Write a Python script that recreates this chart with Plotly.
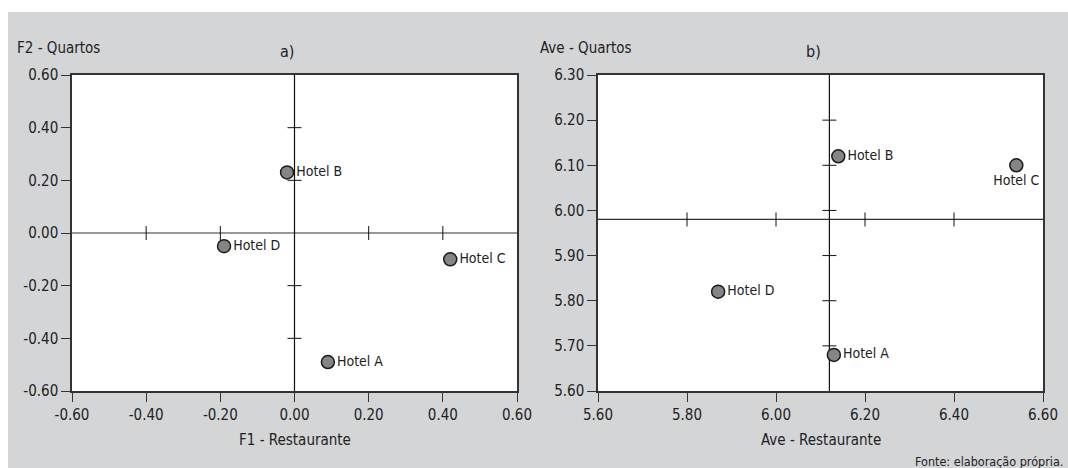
import plotly.graph_objects as go

# Hotel positions in both perceptual maps
hotels = ["Hotel A", "Hotel B", "Hotel C", "Hotel D"]
f1_restaurante = [0.09, -0.02, 0.42, -0.19]
f2_quartos = [-0.49, 0.23, -0.10, -0.05]
ave_restaurante = [6.13, 6.14, 6.54, 5.87]
ave_quartos = [5.68, 6.12, 6.10, 5.82]
label_pos_a = ["middle right", "middle right", "middle right", "middle right"]
label_pos_b = ["middle right", "middle right", "bottom center", "middle right"]

# Axis ticks
a_ticks = [-0.60, -0.40, -0.20, 0.00, 0.20, 0.40, 0.60]
b_xticks = [5.60, 5.80, 6.00, 6.20, 6.40, 6.60]
b_yticks = [5.60, 5.70, 5.80, 5.90, 6.00, 6.10, 6.20, 6.30]

# Where the inner reference axes cross (x, y)
cross_a = (0.00, 0.00)
cross_b = (6.12, 5.98)

W, H = 1068, 468
FONT = "DejaVu Sans Condensed, Liberation Sans Narrow, sans-serif"
INK = "#222222"
BG = "#d4d5d7"

fig = go.Figure()


def add_panel(xs, ys, positions, xticks, yticks, cross, xa, ya):
    fig.add_trace(go.Scatter(
        x=xs, y=ys, mode="markers+text", text=hotels, textposition=positions,
        textfont=dict(family=FONT, size=14, color=INK),
        marker=dict(size=13, color="#858585", line=dict(color="#1a1a1a", width=1.5)),
        xaxis=xa, yaxis=ya, showlegend=False, hoverinfo="skip", cliponaxis=False,
    ))
    cx, cy = cross
    # small cross ticks along the inner axes
    hx = [t for t in xticks[1:-1] if abs(t - cx) > 1e-9]
    vy = [t for t in yticks[1:-1] if abs(t - cy) > 1e-9]
    fig.add_trace(go.Scatter(
        x=hx, y=[cy] * len(hx), mode="markers",
        marker=dict(symbol="line-ns", size=10, line=dict(color="#111", width=1)),
        xaxis=xa, yaxis=ya, showlegend=False, hoverinfo="skip",
    ))
    fig.add_trace(go.Scatter(
        x=[cx] * len(vy), y=vy, mode="markers",
        marker=dict(symbol="line-ew", size=10, line=dict(color="#111", width=1)),
        xaxis=xa, yaxis=ya, showlegend=False, hoverinfo="skip",
    ))
    fig.add_shape(type="line", xref=xa + " domain", yref=ya, x0=0, x1=1, y0=cy, y1=cy,
                  line=dict(color="#333", width=1.2), layer="below")
    fig.add_shape(type="line", xref=xa, yref=ya + " domain", x0=cx, x1=cx, y0=0, y1=1,
                  line=dict(color="#111", width=1.2), layer="below")


# Panel a
add_panel(f1_restaurante, f2_quartos, label_pos_a, a_ticks, a_ticks, cross_a, "x", "y")
# Panel b
add_panel(ave_restaurante, ave_quartos, label_pos_b, b_xticks, b_yticks, cross_b, "x2", "y2")


def labels(vals):
    # plain hyphen for negatives
    return [f"{v:.2f}" for v in vals]


ydom = [1 - 391 / H, 1 - 75 / H]
axis_common = dict(
    showgrid=False, zeroline=False, showline=True, mirror=True,
    linecolor="#333", linewidth=1.5, ticks="outside", ticklen=9, tickwidth=1.2,
    tickcolor="#333", automargin=False,
    tickfont=dict(family=FONT, size=15, color=INK),
)

fig.update_layout(
    width=W, height=H,
    margin=dict(l=0, r=0, t=0, b=0),
    paper_bgcolor=BG, plot_bgcolor="white",
    xaxis=dict(domain=[72 / W, 517 / W], range=[a_ticks[0], a_ticks[-1]],
               tickvals=a_ticks, ticktext=labels(a_ticks), anchor="y", **axis_common),
    yaxis=dict(domain=ydom, range=[a_ticks[0], a_ticks[-1]],
               tickvals=a_ticks, ticktext=labels(a_ticks), anchor="x", **axis_common),
    xaxis2=dict(domain=[598 / W, 1043 / W], range=[b_xticks[0], b_xticks[-1]],
                tickvals=b_xticks, ticktext=labels(b_xticks), anchor="y2", **axis_common),
    yaxis2=dict(domain=ydom, range=[b_yticks[0], b_yticks[-1]],
                tickvals=b_yticks, ticktext=labels(b_yticks), anchor="x2", **axis_common),
)

# White page strips outside the grey panel
fig.add_shape(type="rect", xref="paper", yref="paper", x0=0, x1=1, y0=1 - 12 / H, y1=1,
              fillcolor="white", line=dict(width=0), layer="below")
fig.add_shape(type="rect", xref="paper", yref="paper", x0=0, x1=8 / W, y0=0, y1=1,
              fillcolor="white", line=dict(width=0), layer="below")


def note(text, x, y, size=15, xanchor="left"):
    fig.add_annotation(text=text, xref="paper", yref="paper", x=x / W, y=1 - y / H,
                       xanchor=xanchor, yanchor="middle", showarrow=False,
                       font=dict(family=FONT, size=size, color=INK))


note("F2 - Quartos", 15, 48)
note("a)", 287, 51, size=16, xanchor="center")
note("F1 - Restaurante", (72 + 517) / 2, 440, xanchor="center")
note("Ave - Quartos", 538, 48)
note("b)", 813, 51, size=16, xanchor="center")
note("Ave - Restaurante", (598 + 1043) / 2, 440, xanchor="center")
note("Fonte: elaboração própria.", 1065, 461, size=12.5, xanchor="right")

fig.write_html("out.html")
